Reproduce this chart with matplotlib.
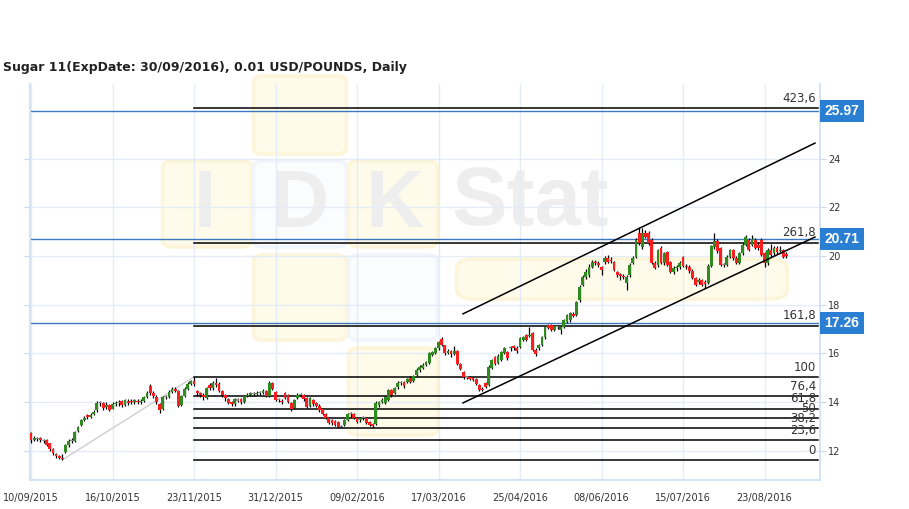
import numpy as np
import matplotlib
matplotlib.use('Agg')
import matplotlib.pyplot as plt
from matplotlib.patches import FancyBboxPatch, Rectangle
import matplotlib.transforms as mtrans

title = "Sugar 11(ExpDate: 30/09/2016), 0.01 USD/POUNDS, Daily"

opens = [
    12.72, 12.45, 12.50, 12.52, 12.42, 12.44, 12.30, 12.05, 11.85, 11.76,
    11.70, 11.95, 12.22, 12.40, 12.40, 12.80, 13.05, 13.25, 13.45, 13.40,
    13.50, 13.65, 13.96, 13.96, 13.80, 13.88, 13.72, 13.92, 13.96, 14.02,
    13.88, 14.05, 14.05, 13.98, 14.05, 14.00, 14.05, 14.20, 14.66, 14.37,
    14.22, 13.90, 13.70, 14.20, 14.22, 14.42, 14.52, 14.45, 13.88, 14.25,
    14.55, 14.75, 14.85,
    14.45, 14.37, 14.30, 14.16, 14.70, 14.57, 14.78, 14.75, 14.45, 14.29,
    14.12, 13.98, 13.90, 14.08, 14.12, 14.00, 14.25, 14.29, 14.35, 14.33,
    14.37, 14.37, 14.45, 14.25, 14.78, 14.40, 14.08, 14.05, 14.37, 14.29,
    13.95, 13.75, 14.16, 14.29, 14.29, 14.16, 13.85, 14.08, 13.96, 13.85,
    13.70, 13.52, 13.34, 13.26, 13.20, 13.17, 12.98, 13.05, 13.26, 13.50,
    13.52, 13.34, 13.25, 13.34, 13.34, 13.17, 13.08, 13.10, 13.88, 14.00,
    13.96, 14.08, 14.49, 14.37, 14.61, 14.78, 14.82, 14.82, 15.00, 14.85,
    15.11,
    15.30, 15.40, 15.52, 15.61, 15.93, 16.00, 16.20, 16.60, 16.32, 16.02,
    16.10, 15.98, 16.10, 15.57, 15.22, 15.02, 15.02, 14.98, 14.96,
    14.70, 14.55, 14.78, 14.70, 15.40, 15.85, 15.60, 15.73, 16.00, 16.05,
    16.20, 16.30, 16.22, 16.26, 16.55, 16.75, 16.70, 16.83, 16.15, 16.20,
    16.34, 16.67, 17.16, 17.16, 16.96, 17.10, 16.96, 17.08, 17.29, 17.37,
    17.62, 17.57, 18.19, 18.81, 19.14, 19.22, 19.55, 19.75, 19.71, 19.55,
    19.75, 19.92, 19.85, 19.75, 19.34, 19.25, 19.18, 18.89, 19.22, 19.71,
    19.96, 20.95, 20.37, 20.95, 20.95, 20.66, 19.71, 19.63, 20.33, 19.71,
    20.16, 19.75, 19.34, 19.50, 19.55, 19.95, 19.60, 19.55, 19.40, 19.10,
    18.95, 19.00, 18.95, 18.90, 19.60, 20.35, 20.60, 20.33, 19.65, 19.63,
    19.96, 20.25, 19.92, 19.71, 20.12, 20.45, 20.66, 20.45, 20.66, 20.45,
    20.66, 20.12, 19.71, 20.25, 20.12, 20.33, 20.20, 20.25, 20.10,
]

closes = [
    12.45, 12.50, 12.48, 12.42, 12.40, 12.23, 12.05, 11.88, 11.76, 11.68,
    11.66, 12.22, 12.40, 12.38, 12.75, 12.97, 13.25, 13.35, 13.38, 13.46,
    13.60, 13.96, 13.96, 13.75, 13.88, 13.67, 13.92, 13.96, 13.96, 13.88,
    14.08, 13.96, 13.98, 14.08, 14.00, 14.05, 14.20, 14.37, 14.37, 14.25,
    13.98, 13.68, 14.20, 14.22, 14.42, 14.55, 14.45, 13.85, 14.25, 14.55,
    14.75, 14.85, 14.75,
    14.37, 14.29, 14.20, 14.57, 14.57, 14.78, 14.70, 14.45, 14.29, 14.16,
    13.96, 13.92, 14.12, 14.05, 14.00, 14.25, 14.29, 14.37, 14.33, 14.37,
    14.37, 14.45, 14.25, 14.78, 14.53, 14.08, 14.06, 14.00, 14.16, 14.00,
    13.70, 14.08, 14.29, 14.29, 14.12, 13.79, 14.16, 13.92, 13.85, 13.65,
    13.50, 13.34, 13.15, 13.13, 13.05, 12.98, 13.00, 13.26, 13.50, 13.52,
    13.34, 13.17, 13.34, 13.32, 13.13, 13.05, 13.00, 13.96, 14.00, 14.08,
    14.20, 14.49, 14.29, 14.57, 14.78, 14.78, 14.65, 14.94, 14.82, 15.07,
    15.32,
    15.45, 15.52, 15.65, 16.00, 16.05, 16.20, 16.45, 16.32, 16.00, 16.10,
    15.95, 16.08, 15.57, 15.37, 15.02, 15.00, 14.96, 14.90, 14.74,
    14.49, 14.50, 14.62, 15.45, 15.73, 15.55, 15.90, 16.05, 16.20, 15.80,
    16.26, 16.20, 16.10, 16.63, 16.67, 16.55, 16.75, 16.13, 15.98, 16.34,
    16.67, 17.08, 17.04, 16.96, 17.12, 17.08, 17.08, 17.37, 17.57, 17.66,
    17.55, 18.10, 18.73, 19.14, 19.35, 19.55, 19.75, 19.72, 19.63, 19.42,
    19.92, 19.75, 19.80, 19.42, 19.22, 19.18, 19.14, 19.14, 19.63, 19.92,
    20.66, 20.53, 20.95, 20.80, 20.53, 19.71, 19.50, 20.25, 19.71, 20.12,
    19.63, 19.34, 19.50, 19.55, 19.70, 19.60, 19.55, 19.40, 19.10, 18.82,
    19.00, 18.82, 18.85, 19.60, 20.40, 20.60, 20.20, 19.63, 19.63, 19.96,
    20.25, 19.92, 19.71, 20.12, 20.45, 20.78, 20.25, 20.70, 20.33, 20.33,
    20.04, 19.71, 20.25, 20.04, 20.33, 20.16, 20.25, 19.96, 19.98,
]

highs = [
    12.76, 12.58, 12.56, 12.55, 12.48, 12.46, 12.32, 12.10, 11.90, 11.82,
    11.85, 12.28, 12.48, 12.50, 12.80, 13.02, 13.30, 13.42, 13.52, 13.55,
    13.68, 14.02, 14.05, 14.00, 13.98, 13.92, 14.00, 14.05, 14.06, 14.06,
    14.12, 14.10, 14.12, 14.12, 14.10, 14.12, 14.25, 14.45, 14.72, 14.45,
    14.30, 13.95, 14.25, 14.30, 14.48, 14.62, 14.60, 14.50, 14.30, 14.60,
    14.80, 14.92, 15.03,
    14.50, 14.42, 14.35, 14.62, 14.78, 14.85, 15.00, 14.80, 14.50, 14.33,
    14.16, 14.05, 14.18, 14.15, 14.18, 14.30, 14.38, 14.42, 14.42, 14.45,
    14.45, 14.52, 14.50, 14.86, 14.82, 14.45, 14.15, 14.10, 14.40, 14.33,
    14.00, 14.12, 14.35, 14.38, 14.33, 14.20, 14.20, 14.12, 14.00, 13.90,
    13.75, 13.56, 13.38, 13.30, 13.25, 13.20, 13.05, 13.30, 13.55, 13.58,
    13.56, 13.38, 13.40, 13.42, 13.38, 13.22, 13.12, 14.02, 14.05, 14.15,
    14.25, 14.52, 14.55, 14.62, 14.85, 14.85, 14.88, 15.00, 15.05, 15.12,
    15.38,
    15.50, 15.58, 15.70, 16.05, 16.10, 16.25, 16.50, 16.67, 16.36, 16.18,
    16.15, 16.30, 16.15, 15.62, 15.26, 15.08, 15.06, 15.02, 15.00,
    14.74, 14.60, 14.82, 15.50, 15.78, 15.90, 15.95, 16.10, 16.25, 16.10,
    16.30, 16.36, 16.28, 16.68, 16.72, 16.80, 17.08, 16.88, 16.20, 16.40,
    16.72, 17.12, 17.20, 17.20, 17.18, 17.18, 17.12, 17.42, 17.62, 17.70,
    17.68, 18.15, 18.80, 19.20, 19.45, 19.65, 19.82, 19.85, 19.80, 19.60,
    20.00, 20.05, 19.95, 19.80, 19.40, 19.30, 19.25, 19.20, 19.70, 20.00,
    20.75, 21.19, 21.15, 21.05, 21.02, 20.72, 19.78, 20.30, 20.40, 20.18,
    20.22, 19.80, 19.60, 19.62, 19.78, 20.00, 19.68, 19.62, 19.45, 19.15,
    19.08, 19.05, 19.00, 19.65, 20.45, 20.95, 20.68, 20.38, 19.72, 20.02,
    20.30, 20.30, 19.98, 20.18, 20.52, 20.85, 20.72, 20.86, 20.72, 20.55,
    20.72, 20.18, 20.32, 20.50, 20.40, 20.40, 20.40, 20.30, 20.15,
]

lows = [
    12.32, 12.38, 12.40, 12.36, 12.33, 12.18, 12.00, 11.82, 11.70, 11.64,
    11.62, 11.90, 12.15, 12.30, 12.35, 12.75, 13.00, 13.20, 13.30, 13.35,
    13.45, 13.60, 13.85, 13.68, 13.72, 13.62, 13.70, 13.85, 13.85, 13.78,
    13.82, 13.88, 13.90, 13.92, 13.92, 13.90, 13.98, 14.15, 14.30, 14.18,
    13.90, 13.55, 13.65, 14.10, 14.15, 14.38, 14.40, 13.80, 13.82, 14.20,
    14.50, 14.70, 14.65,
    14.25, 14.20, 14.08, 14.10, 14.50, 14.50, 14.60, 14.40, 14.20, 14.05,
    13.90, 13.85, 13.85, 13.98, 13.92, 13.95, 14.20, 14.25, 14.25, 14.28,
    14.30, 14.32, 14.20, 14.22, 14.48, 14.02, 14.00, 13.92, 14.10, 13.95,
    13.62, 13.70, 14.10, 14.22, 14.05, 13.75, 13.80, 13.85, 13.78, 13.60,
    13.45, 13.28, 13.10, 13.05, 13.00, 12.92, 12.92, 13.00, 13.22, 13.40,
    13.30, 13.12, 13.18, 13.25, 13.08, 13.00, 12.92, 13.05, 13.80, 13.95,
    13.92, 14.05, 14.22, 14.32, 14.55, 14.70, 14.58, 14.78, 14.78, 14.80,
    15.05,
    15.25, 15.35, 15.48, 15.55, 15.88, 15.95, 16.15, 16.28, 15.92, 15.95,
    15.85, 15.92, 15.50, 15.30, 14.96, 14.95, 14.90, 14.85, 14.68,
    14.45, 14.45, 14.58, 14.65, 15.35, 15.50, 15.55, 15.70, 15.95, 15.72,
    16.10, 16.12, 16.02, 16.20, 16.50, 16.50, 16.65, 16.08, 15.90, 16.15,
    16.28, 16.60, 16.98, 16.90, 16.90, 17.00, 16.80, 17.02, 17.25, 17.30,
    17.48, 17.52, 18.10, 18.75, 19.05, 19.15, 19.50, 19.62, 19.55, 19.20,
    19.65, 19.70, 19.70, 19.38, 19.15, 19.00, 19.05, 18.60, 19.15, 19.65,
    19.90, 20.45, 20.30, 20.75, 20.45, 19.65, 19.45, 19.55, 19.65, 19.62,
    19.58, 19.28, 19.25, 19.40, 19.45, 19.55, 19.45, 19.30, 19.05, 18.78,
    18.85, 18.75, 18.70, 18.85, 19.55, 20.30, 20.12, 19.58, 19.55, 19.58,
    19.90, 19.85, 19.65, 19.65, 20.05, 20.40, 20.20, 20.40, 20.28, 20.25,
    19.98, 19.55, 19.62, 19.95, 20.05, 20.10, 20.15, 19.90, 19.90,
]

tick_idx = [0, 26, 52, 78, 104, 130, 156, 182, 208, 234]
tick_labels = ['10/09/2015', '16/10/2015', '23/11/2015', '31/12/2015', '09/02/2016',
               '17/03/2016', '25/04/2016', '08/06/2016', '15/07/2016', '23/08/2016']
y_ticks = [12, 14, 16, 18, 20, 22, 24]

fib_ratios = [0, 23.6, 38.2, 50, 61.8, 76.4, 100, 161.8, 261.8, 423.6]
fib_labels = ['0', '23,6', '38,2', '50', '61,8', '76,4', '100', '161,8', '261,8', '423,6']
fib_low_idx, fib_high_idx = 10, 52

price_levels = [25.97, 20.71, 17.26]
price_labels = ['25.97', '20.71', '17.26']

channel_x = [137.8, 250.1]
channel_upper = [17.62, 24.64]
channel_lower = [13.96, 20.78]

# ---------------------------------------------------------------
W, H = 909, 509
fig = plt.figure(figsize=(W / 100, H / 100), dpi=100)
fig.patch.set_facecolor('white')

def fx(px):
    return px / W

def fy(py):
    return 1 - py / H

# watermark (figure pixel layout)
yellow_fc, yellow_ec = '#fffbea', '#fdf5d8'
light_fc, light_ec = '#fafcfe', '#f1f5fb'
blocks = [
    (253, 73, 94, 84, 'y'), (162, 158, 90, 92, 'y'), (253, 158, 94, 92, 'l'),
    (348, 158, 90, 92, 'y'), (253, 252, 94, 91, 'y'), (348, 252, 90, 91, 'l'),
    (348, 345, 90, 93, 'y'),
]
for (bx, by, bw, bh, kind) in blocks:
    fc, ec = (yellow_fc, yellow_ec) if kind == 'y' else (light_fc, light_ec)
    p = FancyBboxPatch((fx(bx + 6), fy(by + bh - 6)), fx(bw - 12), (bh - 12) / H,
                       boxstyle='round,pad=0.006,rounding_size=0.012',
                       transform=fig.transFigure, fc=fc, ec=ec, lw=2.5, zorder=-5)
    fig.patches.append(p)
bar = FancyBboxPatch((fx(462), fy(296)), fx(320), 34 / H,
                     boxstyle='round,pad=0.006,rounding_size=0.02',
                     transform=fig.transFigure, fc=yellow_fc, ec=yellow_ec, lw=2.5, zorder=-5)
fig.patches.append(bar)
wm_col = '#eeeeee'
for (tx, ch) in [(205, 'I'), (300, 'D'), (395, 'K')]:
    fig.text(fx(tx), fy(206), ch, fontsize=58, fontweight='bold', color=wm_col,
             family='Liberation Sans', ha='center', va='center', zorder=-4)
fig.text(fx(452), fy(203), 'Stat', fontsize=60, fontweight='bold', color=wm_col,
         family='Liberation Sans', ha='left', va='center', zorder=-4)

ax = fig.add_axes([fx(30), 1 - 480 / H, 790 / W, 396 / H])
ax.set_facecolor('none')
ax.set_zorder(1)

xmin, xmax = -0.32, 251.7
ax.set_xlim(xmin, xmax)
ax.set_ylim(10.79, 27.07)

grid_col = '#e4edf7'
for t in tick_idx:
    ax.axvline(t, color=grid_col, lw=1.0, zorder=0)
for t in y_ticks:
    ax.axhline(t, color=grid_col, lw=1.0, zorder=0)

o = np.array(opens); c = np.array(closes); h = np.array(highs); l = np.array(lows)
idx = np.arange(len(o))
diff = c - o
colors = np.where(np.abs(diff) <= 0.03, '#8c8c8c', np.where(diff > 0, '#2f8a1f', '#fa1e1e'))
body_bottom = np.minimum(o, c)
body_h = np.maximum(np.abs(diff), 0.05)

ax.vlines(idx, l, h, color='black', lw=0.9, zorder=3)
ax.bar(idx, body_h, bottom=body_bottom, width=0.9, color=colors, edgecolor='none', zorder=4)

# fibonacci anchor line
lo = lows[fib_low_idx]; hi = highs[fib_high_idx]
ax.plot([fib_low_idx, fib_high_idx], [lo, hi], color='#cfcfcf', lw=1.0, zorder=2)

# price level lines (blue)
for v in price_levels:
    ax.plot([xmin, xmax], [v, v], color='#3d78c2', lw=1.0, zorder=2)

# fibonacci levels
for r, lab in zip(fib_ratios, fib_labels):
    v = lo + r / 100.0 * (hi - lo)
    ax.plot([fib_high_idx, xmax - 0.5], [v, v], color='black', lw=1.1, zorder=2)
    ax.text(250.4, v + 0.13, lab, ha='right', va='bottom', fontsize=8.5,
            color='#333333', zorder=5)

# channel
ax.plot(channel_x, channel_upper, color='black', lw=1.1, zorder=5)
ax.plot(channel_x, channel_lower, color='black', lw=1.1, zorder=5)

# price boxes
blend = mtrans.blended_transform_factory(ax.transAxes, ax.transData)
bw = 44 / 790
for v, lab in zip(price_levels, price_labels):
    ax.add_patch(Rectangle((1.0, v - 0.45), bw, 0.9, transform=blend, clip_on=False,
                           fc='#2b7fd2', ec='none', zorder=6))
    ax.text(1.0 + bw / 2, v, lab, transform=blend, ha='center', va='center',
            color='white', fontsize=10, fontweight='bold', family='Liberation Sans',
            zorder=7, clip_on=False)

# axes styling
spine_col = '#d6e3f1'
ax.spines['top'].set_visible(False)
for s in ['left', 'right', 'bottom']:
    ax.spines[s].set_color(spine_col)
    ax.spines[s].set_linewidth(1.5)

ax.set_xticks(tick_idx)
ax.set_xticklabels(tick_labels)
ax.set_yticks(y_ticks)
ax.set_yticklabels([str(t) for t in y_ticks])
ax.tick_params(axis='x', length=0, pad=9, labelsize=7, labelcolor='#333333')
ax.tick_params(axis='y', left=True, right=True, labelleft=False, labelright=True,
               length=4, color='#c9d9ec', labelsize=7, labelcolor='#333333', pad=2)

fig.text(fx(3), fy(68), title, fontsize=9, fontweight='bold', color='#222222',
         ha='left', va='center')

fig.savefig('out.png', dpi=100, facecolor='white')
